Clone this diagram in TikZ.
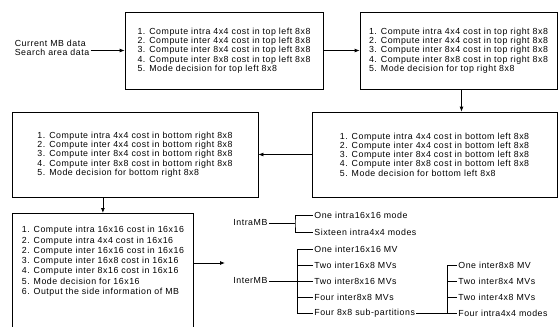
\documentclass[tikz,border=0pt]{standalone}
\usepackage{fontspec}
\newfontfamily\diagfont[LetterSpace=6]{Liberation Sans}
\usetikzlibrary{arrows.meta}

\begin{document}
\begin{tikzpicture}[x=1pt, y=-1pt, line width=0.8pt,
  font=\diagfont\fontsize{8.8}{9.3}\selectfont,
  stagebox/.style={draw, align=left, inner sep=0pt},
  leaf/.style={anchor=west, inner sep=1pt},
  arr/.style={-{Latex[length=5pt, width=4pt]}}]
  \useasboundingbox (0,0) rectangle (558,327);

  % input data
  \node[align=left, inner sep=1pt] (input) at (52,48) {Current MB data\\Search area data};

  % four 8x8 stages
  \node[stagebox, minimum width=198pt, minimum height=77pt] (tl) at (224,50.5)
    {1. Compute intra 4x4 cost in top left 8x8\\2. Compute inter 4x4 cost in top left 8x8\\3. Compute inter 8x4 cost in top left 8x8\\4. Compute inter 8x8 cost in top left 8x8\\5. Mode decision for top left 8x8};
  \node[stagebox, minimum width=197pt, minimum height=77pt] (tr) at (458.5,50.5)
    {1. Compute intra 4x4 cost in top right 8x8\\2. Compute inter 4x4 cost in top right 8x8\\3. Compute inter 8x4 cost in top right 8x8\\4. Compute inter 8x8 cost in top right 8x8\\5. Mode decision for top right 8x8};
  \node[stagebox, minimum width=245pt, minimum height=85pt] (bl) at (434.5,154.5)
    {1. Compute intra 4x4 cost in bottom left 8x8\\2. Compute inter 4x4 cost in bottom left 8x8\\3. Compute inter 8x4 cost in bottom left 8x8\\4. Compute inter 8x8 cost in bottom left 8x8\\5. Mode decision for bottom left 8x8};
  \node[stagebox, minimum width=246pt, minimum height=85pt] (br) at (135,154.5)
    {1. Compute intra 4x4 cost in bottom right 8x8\\2. Compute inter 4x4 cost in bottom right 8x8\\3. Compute inter 8x4 cost in bottom right 8x8\\4. Compute inter 8x8 cost in bottom right 8x8\\5. Mode decision for bottom right 8x8};

  % 16x16 stage, box runs off the bottom
  \node[draw, minimum width=181pt, minimum height=120pt, anchor=north west] (mb) at (12,213) {};
  \node[align=left, anchor=north, inner sep=0pt, font=\diagfont\fontsize{8.8}{10.3}\selectfont] (mbtxt) at ([yshift=-13pt]mb.north)
    {1. Compute intra 16x16 cost in 16x16\\2. Compute intra 4x4 cost in 16x16\\2. Compute inter 16x16 cost in 16x16\\3. Compute inter 16x8 cost in 16x16\\4. Compute inter 8x16 cost in 16x16\\5. Mode decision for 16x16\\6. Output the side information of MB};

  \draw[arr] (input.east |- tl.west) -- (tl.west);
  \draw[arr] (tl.east) -- (tr.west);
  \draw[arr] ([xshift=3pt]tr.south) -- ([xshift=3pt]tr.south |- bl.north);
  \draw[arr] (bl.west) -- (br.east);
  \draw[arr] (br.south -| mb.north) -- (mb.north);
  \coordinate (treein) at (225,263);
  \draw[arr] (mb.east |- treein) -- (treein);

  % mode tree
  \node[leaf] (intra) at (232,223) {IntraMB};
  \node[leaf] (inter) at (232,281) {InterMB};
  \node[leaf] (a1) at (313,215) {One intra16x16 mode};
  \node[leaf] (a2) at (313,232) {Sixteen intra4x4 modes};
  \node[leaf] (b1) at (313,249) {One inter16x16 MV};
  \node[leaf] (b2) at (313,265) {Two inter16x8 MVs};
  \node[leaf] (b3) at (313,281) {Two inter8x16 MVs};
  \node[leaf] (b4) at (313,297) {Four inter8x8 MVs};
  \node[leaf] (b5) at (313,313) {Four 8x8 sub-partitions};
  \node[leaf] (c1) at (457,265) {One inter8x8 MV};
  \node[leaf] (c2) at (457,281) {Two inter8x4 MVs};
  \node[leaf] (c3) at (457,297) {Two inter4x8 MVs};
  \node[leaf] (c4) at (457,313) {Four intra4x4 modes};

  \coordinate (intrabar) at (295,223);
  \coordinate (interbar) at (297,281);
  \coordinate (subbar) at (447,289);
  \draw (intra.east) -- (intrabar);
  \draw (a1.west) -| (intrabar) |- (a2.west);
  \draw (inter.east) -- (interbar);
  \draw (b1.west) -| (b5.west -| interbar) -- (b5.west);
  \draw (b2.west) -- (b2.west -| interbar);
  \draw (b3.west) -- (interbar);
  \draw (b4.west) -- (b4.west -| interbar);
  \draw (b5.east) -- (c4.west);
  \draw (c1.west) -| (c4.west -| subbar);
  \draw (c2.west) -- (c2.west -| subbar);
  \draw (c3.west) -- (c3.west -| subbar);
\end{tikzpicture}
\end{document}
